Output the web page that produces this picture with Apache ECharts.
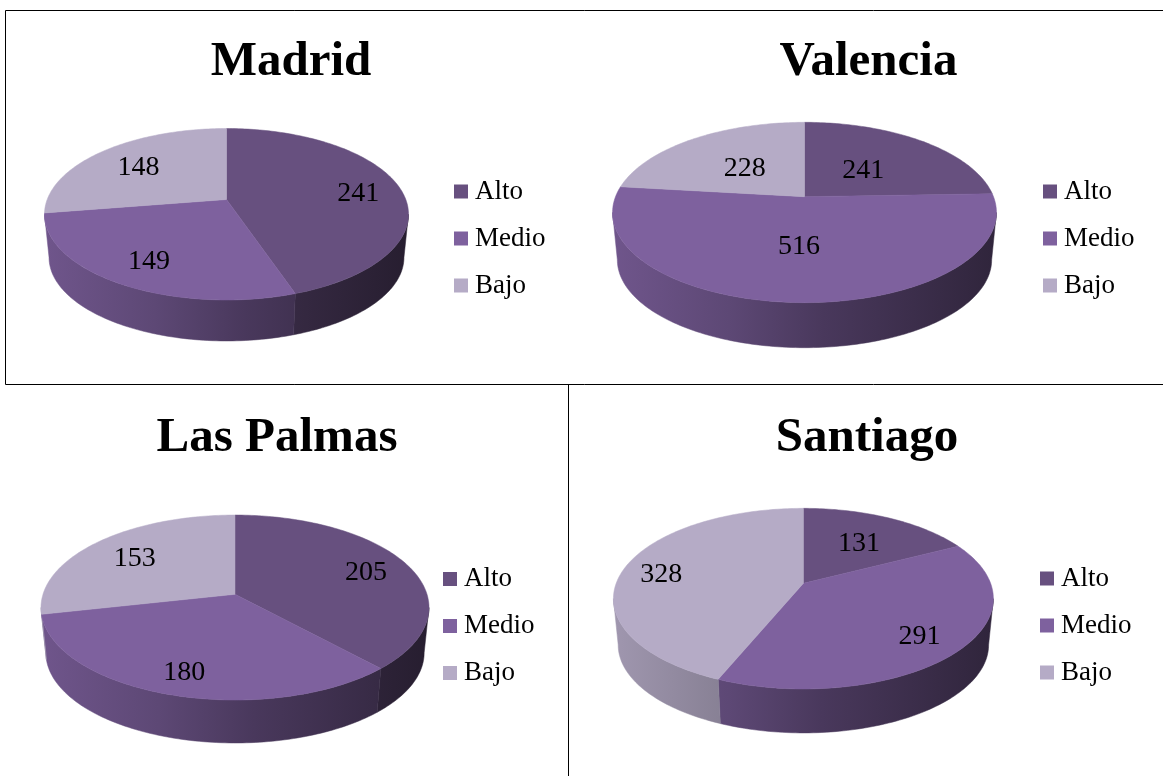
<!DOCTYPE html>
<html>
<head>
<meta charset="utf-8">
<title>Alto Medio Bajo</title>
<script src="https://cdn.jsdelivr.net/npm/echarts@6/dist/echarts.min.js"></script>
<style>
  html, body { margin: 0; padding: 0; background: #fff; }
  #main { width: 1163px; height: 776px; }
</style>
</head>
<body>
<div id="main"></div>
<script>
// data
const cities = ['Madrid', 'Valencia', 'Las Palmas', 'Santiago']
const categories = ['Alto', 'Medio', 'Bajo']
const alto = [241, 241, 205, 131]
const medio = [149, 516, 180, 291]
const bajo = [148, 228, 153, 328]
const seriesValues = [alto, medio, bajo]

// colours
const colors = ['#67507f', '#7e619e', '#b5abc6']
const sideStops = [[0, 0.88], [0.3, 0.74], [0.55, 0.58], [1, 0.38]]

// one disc per city: apex, radii, perspective, wall height
const discs = [
  { cx: 226.5, cy: 199.5, rx: 179.3, ry: 83.2, k: 0.172, depth: 43.5 },
  { cx: 804.5, cy: 196.7, rx: 189, ry: 87.4, k: 0.175, depth: 47.7 },
  { cx: 235, cy: 594.3, rx: 192, ry: 90.6, k: 0.143, depth: 45.6 },
  { cx: 803.4, cy: 583.3, rx: 187.2, ry: 87.7, k: 0.17, depth: 46.6 }
]
const titleSpots = [[291, 38], [868.5, 38], [277, 414], [867, 414]]
const legendSpots = [[454, 178], [1043, 178], [443, 565.5], [1040, 565]]
const labelRadius = 0.72
// labels sit where the original placed them: shift per city, per category
const labelShifts = [
  [[7, 4], [-3, 5], [3, 4]],
  [[-28, 15], [1, -22], [23, 15]],
  [[7, 1], [-5, 9], [1, 3]],
  [[-8, 9], [8, 7], [-13, 3]]
]
const bottomScale = 0.975
const fontName = '"Liberation Serif", serif'

// angle is clockwise from the top of the disc, f is the share of the radius
const project = (disc, angle, f, onBottom) => {
  const u = f * Math.sin(angle)
  const v = -f * Math.cos(angle)
  const w = 1 - disc.k * v
  const x = disc.rx * u / w
  const y = disc.ry * v / w
  if (onBottom) {
    return [disc.cx + x * bottomScale, disc.cy + y * bottomScale + disc.depth]
  }
  return [disc.cx + x, disc.cy + y]
}

const arcPoints = (disc, from, to, onBottom) => {
  const steps = Math.max(2, Math.ceil((to - from) / 0.02))
  const points = []
  for (let i = 0; i <= steps; i++) {
    points.push(project(disc, from + (to - from) * i / steps, 1, onBottom))
  }
  return points
}

const shade = (hex, factor) => {
  const n = parseInt(hex.slice(1), 16)
  const part = (s) => Math.round(((n >> s) & 255) * factor)
  return `rgb(${part(16)},${part(8)},${part(0)})`
}

const sideFill = (disc, color) => new echarts.graphic.LinearGradient(
  disc.cx - disc.rx, 0, disc.cx + disc.rx, 0,
  sideStops.map(([offset, factor]) => ({ offset, color: shade(color, factor) })),
  true
)

const makeRenderItem = (catIndex) => (params, api) => {
  const i = params.dataIndex
  const disc = discs[i]
  const value = api.value(0)
  const total = seriesValues.reduce((sum, list) => sum + list[i], 0)
  let before = 0
  for (let c = 0; c < catIndex; c++) before += seriesValues[c][i]
  const from = before / total * Math.PI * 2
  const to = (before + value) / total * Math.PI * 2
  const color = colors[catIndex]
  const topRim = arcPoints(disc, from, to, false)
  const labelAt = project(disc, (from + to) / 2, labelRadius, false)
  const shift = labelShifts[i][catIndex]
  const children = [
    {
      type: 'polygon',
      z2: 2,
      shape: { points: [[disc.cx, disc.cy]].concat(topRim) },
      style: { fill: color, stroke: color, lineWidth: 0.5 }
    },
    {
      type: 'text',
      z2: 3,
      x: labelAt[0] + shift[0],
      y: labelAt[1] + shift[1],
      style: {
        text: String(value),
        fill: '#000',
        font: `28px ${fontName}`,
        align: 'center',
        verticalAlign: 'middle'
      }
    }
  ]
  // the wall only shows from the widest point of the disc round the front
  const frontStart = Math.acos(-disc.k)
  const wallFrom = Math.max(from, frontStart)
  const wallTo = Math.min(to, Math.PI * 2 - frontStart)
  if (wallTo > wallFrom) {
    const side = sideFill(disc, color)
    const upper = arcPoints(disc, wallFrom, wallTo, false)
    const lower = arcPoints(disc, wallFrom, wallTo, true)
    children.push({
      type: 'polygon',
      z2: 1,
      shape: { points: upper.concat(lower.reverse()) },
      style: { fill: side, stroke: side, lineWidth: 0.5 }
    })
  }
  return { type: 'group', children }
}

const chart = echarts.init(document.getElementById('main'))

chart.setOption({
  animation: false,
  backgroundColor: '#fff',
  title: cities.map((name, i) => ({
    text: name,
    left: titleSpots[i][0],
    top: titleSpots[i][1],
    textAlign: 'center',
    padding: 0,
    textStyle: { fontFamily: fontName, fontWeight: 'bold', fontSize: 49, color: '#000' }
  })),
  legend: legendSpots.map(([left, top]) => ({
    data: categories,
    left,
    top,
    orient: 'vertical',
    padding: 0,
    icon: 'rect',
    itemWidth: 14,
    itemHeight: 14,
    itemGap: 20,
    selectedMode: false,
    textStyle: { fontFamily: fontName, fontSize: 27, color: '#000', padding: [0, 0, 0, 2] }
  })),
  series: categories.map((name, c) => ({
    type: 'custom',
    name,
    coordinateSystem: 'none',
    silent: true,
    itemStyle: { color: colors[c] },
    renderItem: makeRenderItem(c),
    data: seriesValues[c].map((v) => [v])
  })),
  // frame lines of the original table
  graphic: [
    { type: 'polyline', shape: { points: [[1163, 10.5], [5.5, 10.5], [5.5, 384.5], [1163, 384.5]] }, style: { fill: null, stroke: '#000', lineWidth: 1 } },
    { type: 'line', shape: { x1: 568.5, y1: 384.5, x2: 568.5, y2: 776 }, style: { stroke: '#000', lineWidth: 1 } }
  ]
})
</script>
</body>
</html>
